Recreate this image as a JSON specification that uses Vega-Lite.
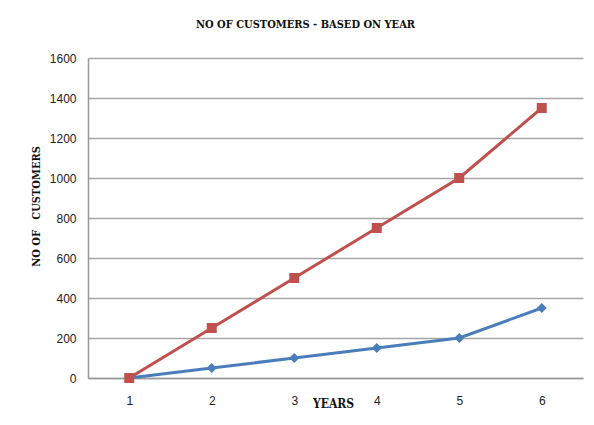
{
  "$schema": "https://vega.github.io/schema/vega-lite/v6.json",
  "width": 495,
  "height": 320,
  "autosize": {"type": "none"},
  "padding": {"left": 88, "top": 58, "right": 11, "bottom": 47},
  "background": "white",
  "title": {
    "text": "NO OF CUSTOMERS - BASED ON YEAR",
    "font": "DejaVu Serif Condensed",
    "fontWeight": "bold",
    "fontSize": 11,
    "color": "#111111",
    "anchor": "middle",
    "frame": "group",
    "dx": -30,
    "offset": 22
  },
  "data": {
    "values": [
      {"year": "1", "series": "Series1", "customers": 0},
      {"year": "2", "series": "Series1", "customers": 50},
      {"year": "3", "series": "Series1", "customers": 100},
      {"year": "4", "series": "Series1", "customers": 150},
      {"year": "5", "series": "Series1", "customers": 200},
      {"year": "6", "series": "Series1", "customers": 350},
      {"year": "1", "series": "Series2", "customers": 0},
      {"year": "2", "series": "Series2", "customers": 250},
      {"year": "3", "series": "Series2", "customers": 500},
      {"year": "4", "series": "Series2", "customers": 750},
      {"year": "5", "series": "Series2", "customers": 1000},
      {"year": "6", "series": "Series2", "customers": 1350}
    ]
  },
  "encoding": {
    "x": {
      "field": "year",
      "type": "ordinal",
      "scale": {"type": "point", "padding": 0.5},
      "axis": {
        "title": "YEARS",
        "titleFont": "DejaVu Serif Condensed",
        "titleFontWeight": "bold",
        "titleFontSize": 12,
        "titleColor": "#111111",
        "titleX": 245,
        "titleY": 25,
        "titleBaseline": "middle",
        "labelAngle": 0,
        "labelFont": "Liberation Sans",
        "labelFontSize": 12,
        "labelColor": "#222222",
        "labelPadding": 17,
        "ticks": false,
        "domainColor": "#999999",
        "domainWidth": 1.5,
        "grid": false
      }
    },
    "y": {
      "field": "customers",
      "type": "quantitative",
      "scale": {"domain": [0, 1600]},
      "axis": {
        "title": "NO OF\u00a0\u00a0\u00a0CUSTOMERS",
        "titleFont": "DejaVu Serif Condensed",
        "titleFontWeight": "bold",
        "titleFontSize": 11,
        "titleColor": "#111111",
        "titleX": -52,
        "titleY": 148,
        "titleAlign": "center",
        "titleBaseline": "middle",
        "values": [0, 200, 400, 600, 800, 1000, 1200, 1400, 1600],
        "format": "d",
        "labelFont": "Liberation Sans",
        "labelFontSize": 12,
        "labelColor": "#222222",
        "labelPadding": 12,
        "ticks": false,
        "domainColor": "#999999",
        "domainWidth": 1.5,
        "grid": true,
        "gridColor": "#a6a6a6",
        "gridWidth": 1.5
      }
    },
    "color": {
      "field": "series",
      "type": "nominal",
      "scale": {"domain": ["Series1", "Series2"], "range": ["#4a7ebb", "#c0504d"]},
      "legend": null
    }
  },
  "layer": [
    {"mark": {"type": "line", "strokeWidth": 3}},
    {
      "mark": {"type": "point", "filled": true, "opacity": 1},
      "encoding": {
        "shape": {
          "field": "series",
          "type": "nominal",
          "scale": {"domain": ["Series1", "Series2"], "range": ["diamond", "square"]},
          "legend": null
        },
        "size": {"value": 100}
      }
    }
  ],
  "config": {
    "view": {"stroke": null}
  }
}
